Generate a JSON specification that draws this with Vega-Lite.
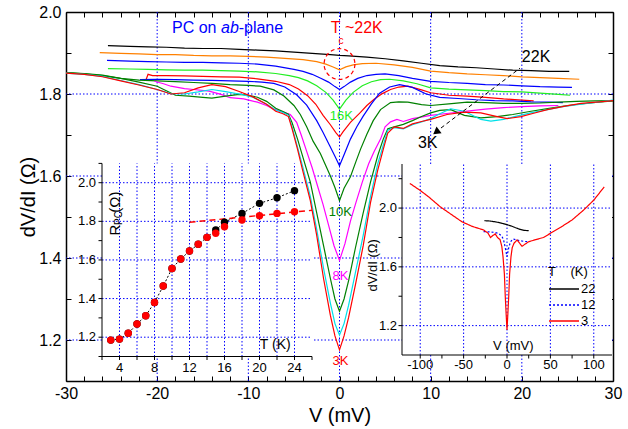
{
"$schema": "https://vega.github.io/schema/vega-lite/v6.json",
"width": 547, "height": 369, "autosize": "none",
"padding": {"left": 66, "top": 12, "right": 15, "bottom": 48},
"config": {"font": "Liberation Sans", "view": {"stroke": null},
  "axis": {"grid": false, "domainColor": "#000", "tickColor": "#000", "labelColor": "#000", "titleColor": "#000", "titleFontWeight": "normal", "labelFlush": false, "zindex": 1}},
"datasets": {
"curves": [
{"s":"22K","v":-25.4,"r":1.918},{"s":"22K","v":-23,"r":1.916},{"s":"22K","v":-21,"r":1.915},{"s":"22K","v":-19,"r":1.914},{"s":"22K","v":-17,"r":1.912},{"s":"22K","v":-15,"r":1.911},{"s":"22K","v":-13,"r":1.911},{"s":"22K","v":-11,"r":1.909},{"s":"22K","v":-9,"r":1.907},{"s":"22K","v":-7,"r":1.905},{"s":"22K","v":-5,"r":1.902},{"s":"22K","v":-3,"r":1.899},{"s":"22K","v":-1,"r":1.896},{"s":"22K","v":0,"r":1.894},{"s":"22K","v":1,"r":1.893},{"s":"22K","v":3,"r":1.89},{"s":"22K","v":5,"r":1.886},{"s":"22K","v":7,"r":1.881},{"s":"22K","v":9,"r":1.875},{"s":"22K","v":11,"r":1.869},{"s":"22K","v":13,"r":1.866},{"s":"22K","v":15,"r":1.864},{"s":"22K","v":17,"r":1.861},{"s":"22K","v":19,"r":1.858},{"s":"22K","v":21,"r":1.857},{"s":"22K","v":23,"r":1.855},{"s":"22K","v":25.2,"r":1.855},
{"s":"20K","v":-26.3,"r":1.901},{"s":"20K","v":-24,"r":1.899},{"s":"20K","v":-22,"r":1.898},{"s":"20K","v":-20,"r":1.896},{"s":"20K","v":-18,"r":1.896},{"s":"20K","v":-16,"r":1.894},{"s":"20K","v":-14,"r":1.893},{"s":"20K","v":-12,"r":1.893},{"s":"20K","v":-10,"r":1.892},{"s":"20K","v":-8,"r":1.89},{"s":"20K","v":-6,"r":1.887},{"s":"20K","v":-4,"r":1.884},{"s":"20K","v":-2.5,"r":1.879},{"s":"20K","v":-1.5,"r":1.873},{"s":"20K","v":-0.7,"r":1.866},{"s":"20K","v":0,"r":1.859},{"s":"20K","v":0.7,"r":1.866},{"s":"20K","v":1.5,"r":1.871},{"s":"20K","v":2.5,"r":1.874},{"s":"20K","v":4,"r":1.875},{"s":"20K","v":6,"r":1.871},{"s":"20K","v":8,"r":1.865},{"s":"20K","v":10,"r":1.856},{"s":"20K","v":12,"r":1.852},{"s":"20K","v":14,"r":1.849},{"s":"20K","v":16,"r":1.847},{"s":"20K","v":18,"r":1.845},{"s":"20K","v":20,"r":1.842},{"s":"20K","v":22,"r":1.84},{"s":"20K","v":24,"r":1.838},{"s":"20K","v":26.3,"r":1.836},
{"s":"18K","v":-25.5,"r":1.882},{"s":"18K","v":-23,"r":1.88},{"s":"18K","v":-21,"r":1.879},{"s":"18K","v":-19,"r":1.878},{"s":"18K","v":-17,"r":1.877},{"s":"18K","v":-15,"r":1.877},{"s":"18K","v":-13,"r":1.876},{"s":"18K","v":-11,"r":1.875},{"s":"18K","v":-9,"r":1.873},{"s":"18K","v":-7,"r":1.868},{"s":"18K","v":-5,"r":1.86},{"s":"18K","v":-4,"r":1.855},{"s":"18K","v":-3,"r":1.848},{"s":"18K","v":-2,"r":1.838},{"s":"18K","v":-1.2,"r":1.829},{"s":"18K","v":-0.5,"r":1.818},{"s":"18K","v":0,"r":1.811},{"s":"18K","v":0.5,"r":1.818},{"s":"18K","v":1.2,"r":1.829},{"s":"18K","v":2,"r":1.838},{"s":"18K","v":3,"r":1.845},{"s":"18K","v":4,"r":1.848},{"s":"18K","v":5,"r":1.849},{"s":"18K","v":6.5,"r":1.845},{"s":"18K","v":8,"r":1.838},{"s":"18K","v":10,"r":1.831},{"s":"18K","v":12,"r":1.828},{"s":"18K","v":14,"r":1.826},{"s":"18K","v":16,"r":1.823},{"s":"18K","v":18,"r":1.822},{"s":"18K","v":20,"r":1.82},{"s":"18K","v":22,"r":1.818},{"s":"18K","v":24,"r":1.817},{"s":"18K","v":25.5,"r":1.816},
{"s":"16K","v":-25.4,"r":1.862},{"s":"16K","v":-23,"r":1.861},{"s":"16K","v":-21,"r":1.86},{"s":"16K","v":-19,"r":1.859},{"s":"16K","v":-17,"r":1.858},{"s":"16K","v":-15,"r":1.858},{"s":"16K","v":-13,"r":1.857},{"s":"16K","v":-11,"r":1.856},{"s":"16K","v":-9,"r":1.854},{"s":"16K","v":-7,"r":1.85},{"s":"16K","v":-5.5,"r":1.845},{"s":"16K","v":-4.5,"r":1.84},{"s":"16K","v":-3.5,"r":1.832},{"s":"16K","v":-2.5,"r":1.82},{"s":"16K","v":-1.5,"r":1.804},{"s":"16K","v":-0.7,"r":1.785},{"s":"16K","v":0,"r":1.763},{"s":"16K","v":0.7,"r":1.785},{"s":"16K","v":1.5,"r":1.804},{"s":"16K","v":2.5,"r":1.82},{"s":"16K","v":3.5,"r":1.83},{"s":"16K","v":4.5,"r":1.835},{"s":"16K","v":5.5,"r":1.836},{"s":"16K","v":7,"r":1.832},{"s":"16K","v":8.5,"r":1.825},{"s":"16K","v":10,"r":1.815},{"s":"16K","v":12,"r":1.812},{"s":"16K","v":14,"r":1.81},{"s":"16K","v":16,"r":1.808},{"s":"16K","v":18,"r":1.806},{"s":"16K","v":20,"r":1.805},{"s":"16K","v":22,"r":1.802},{"s":"16K","v":24,"r":1.799},{"s":"16K","v":25.3,"r":1.797},
{"s":"14K","v":-21.2,"r":1.836},{"s":"14K","v":-21,"r":1.848},{"s":"14K","v":-20.5,"r":1.845},{"s":"14K","v":-19,"r":1.845},{"s":"14K","v":-17,"r":1.844},{"s":"14K","v":-15,"r":1.843},{"s":"14K","v":-13,"r":1.842},{"s":"14K","v":-11,"r":1.841},{"s":"14K","v":-9,"r":1.837},{"s":"14K","v":-7,"r":1.831},{"s":"14K","v":-5.5,"r":1.823},{"s":"14K","v":-4.5,"r":1.812},{"s":"14K","v":-3.5,"r":1.796},{"s":"14K","v":-2.6,"r":1.775},{"s":"14K","v":-1.8,"r":1.748},{"s":"14K","v":-1,"r":1.725},{"s":"14K","v":-0.4,"r":1.706},{"s":"14K","v":0,"r":1.695},{"s":"14K","v":0.4,"r":1.708},{"s":"14K","v":1.2,"r":1.731},{"s":"14K","v":2.3,"r":1.755},{"s":"14K","v":3,"r":1.772},{"s":"14K","v":3.8,"r":1.787},{"s":"14K","v":4.7,"r":1.801},{"s":"14K","v":5.6,"r":1.811},{"s":"14K","v":6.5,"r":1.817},{"s":"14K","v":7.5,"r":1.819},{"s":"14K","v":9,"r":1.81},{"s":"14K","v":10,"r":1.803},{"s":"14K","v":12,"r":1.797},{"s":"14K","v":14,"r":1.795},{"s":"14K","v":16,"r":1.792},{"s":"14K","v":18,"r":1.788},{"s":"14K","v":20,"r":1.785},{"s":"14K","v":21.3,"r":1.783},
{"s":"12K","v":-21.9,"r":1.835},{"s":"12K","v":-20,"r":1.836},{"s":"12K","v":-18,"r":1.835},{"s":"12K","v":-16,"r":1.834},{"s":"12K","v":-14,"r":1.833},{"s":"12K","v":-12,"r":1.832},{"s":"12K","v":-10,"r":1.831},{"s":"12K","v":-8.5,"r":1.829},{"s":"12K","v":-7.2,"r":1.826},{"s":"12K","v":-6,"r":1.817},{"s":"12K","v":-4.7,"r":1.798},{"s":"12K","v":-3.6,"r":1.773},{"s":"12K","v":-2.5,"r":1.735},{"s":"12K","v":-1.8,"r":1.706},{"s":"12K","v":-1.1,"r":1.675},{"s":"12K","v":-0.5,"r":1.648},{"s":"12K","v":0,"r":1.625},{"s":"12K","v":0.5,"r":1.652},{"s":"12K","v":1.2,"r":1.69},{"s":"12K","v":1.9,"r":1.72},{"s":"12K","v":2.6,"r":1.746},{"s":"12K","v":3.5,"r":1.776},{"s":"12K","v":4.4,"r":1.802},{"s":"12K","v":5.5,"r":1.817},{"s":"12K","v":6.6,"r":1.823},{"s":"12K","v":8,"r":1.816},{"s":"12K","v":9.5,"r":1.8},{"s":"12K","v":11,"r":1.792},{"s":"12K","v":13,"r":1.789},{"s":"12K","v":15,"r":1.786},{"s":"12K","v":17,"r":1.784},{"s":"12K","v":19,"r":1.783},{"s":"12K","v":21,"r":1.781},{"s":"12K","v":23,"r":1.78},{"s":"12K","v":24.5,"r":1.779},
{"s":"10K","v":-30,"r":1.852},{"s":"10K","v":-28,"r":1.849},{"s":"10K","v":-26,"r":1.845},{"s":"10K","v":-24,"r":1.838},{"s":"10K","v":-22,"r":1.834},{"s":"10K","v":-20,"r":1.832},{"s":"10K","v":-18,"r":1.83},{"s":"10K","v":-16,"r":1.828},{"s":"10K","v":-14,"r":1.826},{"s":"10K","v":-12,"r":1.823},{"s":"10K","v":-10,"r":1.821},{"s":"10K","v":-8.7,"r":1.819},{"s":"10K","v":-7.2,"r":1.81},{"s":"10K","v":-6.1,"r":1.795},{"s":"10K","v":-5,"r":1.772},{"s":"10K","v":-4.3,"r":1.75},{"s":"10K","v":-3.6,"r":1.72},{"s":"10K","v":-2.9,"r":1.685},{"s":"10K","v":-2.1,"r":1.655},{"s":"10K","v":-1.5,"r":1.625},{"s":"10K","v":-1,"r":1.6},{"s":"10K","v":-0.5,"r":1.572},{"s":"10K","v":0,"r":1.54},{"s":"10K","v":0.5,"r":1.57},{"s":"10K","v":1.2,"r":1.598},{"s":"10K","v":1.8,"r":1.635},{"s":"10K","v":2.3,"r":1.665},{"s":"10K","v":3,"r":1.702},{"s":"10K","v":3.7,"r":1.735},{"s":"10K","v":4.5,"r":1.762},{"s":"10K","v":5.6,"r":1.779},{"s":"10K","v":6.5,"r":1.781},{"s":"10K","v":7.5,"r":1.78},{"s":"10K","v":9,"r":1.774},{"s":"10K","v":10,"r":1.772},{"s":"10K","v":12,"r":1.776},{"s":"10K","v":14,"r":1.78},{"s":"10K","v":16,"r":1.779},{"s":"10K","v":18,"r":1.777},{"s":"10K","v":20,"r":1.777},{"s":"10K","v":22,"r":1.778},{"s":"10K","v":24,"r":1.78},{"s":"10K","v":26,"r":1.782},{"s":"10K","v":28,"r":1.783},{"s":"10K","v":30,"r":1.784},
{"s":"8K","v":-20.3,"r":1.831},{"s":"8K","v":-19.3,"r":1.825},{"s":"8K","v":-18.5,"r":1.819},{"s":"8K","v":-17,"r":1.813},{"s":"8K","v":-16,"r":1.811},{"s":"8K","v":-14.3,"r":1.807},{"s":"8K","v":-13,"r":1.799},{"s":"8K","v":-12,"r":1.791},{"s":"8K","v":-10.5,"r":1.788},{"s":"8K","v":-9,"r":1.78},{"s":"8K","v":-8,"r":1.772},{"s":"8K","v":-7.2,"r":1.763},{"s":"8K","v":-6.3,"r":1.757},{"s":"8K","v":-5.4,"r":1.75},{"s":"8K","v":-4.7,"r":1.731},{"s":"8K","v":-4.2,"r":1.7},{"s":"8K","v":-3.6,"r":1.66},{"s":"8K","v":-3,"r":1.62},{"s":"8K","v":-2.4,"r":1.575},{"s":"8K","v":-1.8,"r":1.53},{"s":"8K","v":-1.2,"r":1.48},{"s":"8K","v":-0.6,"r":1.43},{"s":"8K","v":0,"r":1.394},{"s":"8K","v":0.6,"r":1.435},{"s":"8K","v":1.2,"r":1.49},{"s":"8K","v":1.8,"r":1.535},{"s":"8K","v":2.5,"r":1.585},{"s":"8K","v":3.2,"r":1.63},{"s":"8K","v":3.8,"r":1.66},{"s":"8K","v":4.5,"r":1.69},{"s":"8K","v":5,"r":1.72},{"s":"8K","v":5.6,"r":1.732},{"s":"8K","v":6.3,"r":1.738},{"s":"8K","v":7,"r":1.733},{"s":"8K","v":8,"r":1.74},{"s":"8K","v":10,"r":1.748},{"s":"8K","v":12,"r":1.753},{"s":"8K","v":14,"r":1.758},{"s":"8K","v":16,"r":1.763},{"s":"8K","v":18,"r":1.767},{"s":"8K","v":20,"r":1.769},{"s":"8K","v":22,"r":1.771},{"s":"8K","v":24,"r":1.772},
{"s":"6K","v":-30,"r":1.852},{"s":"6K","v":-28,"r":1.85},{"s":"6K","v":-26,"r":1.846},{"s":"6K","v":-24,"r":1.838},{"s":"6K","v":-22,"r":1.829},{"s":"6K","v":-20,"r":1.819},{"s":"6K","v":-19,"r":1.808},{"s":"6K","v":-18,"r":1.797},{"s":"6K","v":-16.5,"r":1.795},{"s":"6K","v":-15,"r":1.792},{"s":"6K","v":-14,"r":1.79},{"s":"6K","v":-12.5,"r":1.795},{"s":"6K","v":-11,"r":1.799},{"s":"6K","v":-10,"r":1.797},{"s":"6K","v":-9,"r":1.792},{"s":"6K","v":-8,"r":1.782},{"s":"6K","v":-7,"r":1.765},{"s":"6K","v":-6.2,"r":1.757},{"s":"6K","v":-5.6,"r":1.751},{"s":"6K","v":-5.2,"r":1.73},{"s":"6K","v":-4.6,"r":1.69},{"s":"6K","v":-4,"r":1.645},{"s":"6K","v":-3.2,"r":1.585},{"s":"6K","v":-2.5,"r":1.51},{"s":"6K","v":-1.75,"r":1.43},{"s":"6K","v":-1,"r":1.35},{"s":"6K","v":-0.5,"r":1.3},{"s":"6K","v":0,"r":1.27},{"s":"6K","v":0.5,"r":1.3},{"s":"6K","v":1,"r":1.345},{"s":"6K","v":1.75,"r":1.425},{"s":"6K","v":2.6,"r":1.51},{"s":"6K","v":3.4,"r":1.585},{"s":"6K","v":4.2,"r":1.65},{"s":"6K","v":4.8,"r":1.69},{"s":"6K","v":5.3,"r":1.715},{"s":"6K","v":6,"r":1.72},{"s":"6K","v":7,"r":1.726},{"s":"6K","v":8,"r":1.735},{"s":"6K","v":9,"r":1.745},{"s":"6K","v":10,"r":1.754},{"s":"6K","v":11,"r":1.76},{"s":"6K","v":12.2,"r":1.762},{"s":"6K","v":13.7,"r":1.748},{"s":"6K","v":15.5,"r":1.742},{"s":"6K","v":17.3,"r":1.745},{"s":"6K","v":19,"r":1.75},{"s":"6K","v":21,"r":1.758},{"s":"6K","v":23,"r":1.765},{"s":"6K","v":25,"r":1.772},{"s":"6K","v":27.5,"r":1.778},{"s":"6K","v":30,"r":1.783},
{"s":"4K","v":-30,"r":1.851},{"s":"4K","v":-28,"r":1.848},{"s":"4K","v":-26,"r":1.843},{"s":"4K","v":-24,"r":1.833},{"s":"4K","v":-22,"r":1.823},{"s":"4K","v":-20,"r":1.811},{"s":"4K","v":-18.5,"r":1.801},{"s":"4K","v":-17,"r":1.8},{"s":"4K","v":-15.5,"r":1.805},{"s":"4K","v":-14,"r":1.811},{"s":"4K","v":-12.5,"r":1.806},{"s":"4K","v":-11,"r":1.8},{"s":"4K","v":-9.5,"r":1.792},{"s":"4K","v":-8,"r":1.775},{"s":"4K","v":-7,"r":1.761},{"s":"4K","v":-6.2,"r":1.755},{"s":"4K","v":-5.6,"r":1.748},{"s":"4K","v":-5.2,"r":1.72},{"s":"4K","v":-4.6,"r":1.67},{"s":"4K","v":-4,"r":1.62},{"s":"4K","v":-3.2,"r":1.55},{"s":"4K","v":-2.5,"r":1.47},{"s":"4K","v":-1.75,"r":1.375},{"s":"4K","v":-1,"r":1.29},{"s":"4K","v":-0.5,"r":1.24},{"s":"4K","v":0,"r":1.212},{"s":"4K","v":0.5,"r":1.24},{"s":"4K","v":1,"r":1.285},{"s":"4K","v":1.75,"r":1.365},{"s":"4K","v":2.6,"r":1.455},{"s":"4K","v":3.4,"r":1.55},{"s":"4K","v":4.2,"r":1.63},{"s":"4K","v":4.8,"r":1.675},{"s":"4K","v":5.3,"r":1.712},{"s":"4K","v":6,"r":1.718},{"s":"4K","v":7,"r":1.715},{"s":"4K","v":8,"r":1.725},{"s":"4K","v":9,"r":1.732},{"s":"4K","v":10,"r":1.74},{"s":"4K","v":11,"r":1.752},{"s":"4K","v":12.2,"r":1.764},{"s":"4K","v":13.7,"r":1.758},{"s":"4K","v":15.5,"r":1.738},{"s":"4K","v":16.6,"r":1.734},{"s":"4K","v":18,"r":1.738},{"s":"4K","v":19.2,"r":1.745},{"s":"4K","v":21,"r":1.754},{"s":"4K","v":22.8,"r":1.762},{"s":"4K","v":24.5,"r":1.769},{"s":"4K","v":26.5,"r":1.775},{"s":"4K","v":28.5,"r":1.781},{"s":"4K","v":30,"r":1.785},
{"s":"3K","v":-30,"r":1.851},{"s":"3K","v":-28,"r":1.848},{"s":"3K","v":-26,"r":1.842},{"s":"3K","v":-24,"r":1.832},{"s":"3K","v":-22,"r":1.822},{"s":"3K","v":-20,"r":1.811},{"s":"3K","v":-18.5,"r":1.8},{"s":"3K","v":-17,"r":1.803},{"s":"3K","v":-15.5,"r":1.815},{"s":"3K","v":-14,"r":1.823},{"s":"3K","v":-12.5,"r":1.818},{"s":"3K","v":-11,"r":1.806},{"s":"3K","v":-9.5,"r":1.793},{"s":"3K","v":-8,"r":1.775},{"s":"3K","v":-7,"r":1.758},{"s":"3K","v":-6.2,"r":1.752},{"s":"3K","v":-5.6,"r":1.745},{"s":"3K","v":-5.2,"r":1.715},{"s":"3K","v":-4.6,"r":1.665},{"s":"3K","v":-4,"r":1.61},{"s":"3K","v":-3.2,"r":1.54},{"s":"3K","v":-2.5,"r":1.455},{"s":"3K","v":-1.75,"r":1.35},{"s":"3K","v":-1,"r":1.26},{"s":"3K","v":-0.5,"r":1.21},{"s":"3K","v":0,"r":1.176},{"s":"3K","v":0.5,"r":1.21},{"s":"3K","v":1,"r":1.255},{"s":"3K","v":1.75,"r":1.335},{"s":"3K","v":2.6,"r":1.43},{"s":"3K","v":3.4,"r":1.535},{"s":"3K","v":4.2,"r":1.615},{"s":"3K","v":4.8,"r":1.665},{"s":"3K","v":5.3,"r":1.705},{"s":"3K","v":6,"r":1.72},{"s":"3K","v":7,"r":1.716},{"s":"3K","v":8,"r":1.727},{"s":"3K","v":9,"r":1.733},{"s":"3K","v":10,"r":1.738},{"s":"3K","v":11.8,"r":1.75},{"s":"3K","v":13.7,"r":1.756},{"s":"3K","v":15.5,"r":1.754},{"s":"3K","v":17.3,"r":1.745},{"s":"3K","v":18.4,"r":1.74},{"s":"3K","v":19.9,"r":1.745},{"s":"3K","v":21.3,"r":1.753},{"s":"3K","v":22.8,"r":1.762},{"s":"3K","v":24.6,"r":1.77},{"s":"3K","v":26.5,"r":1.777},{"s":"3K","v":28.5,"r":1.781},{"s":"3K","v":30,"r":1.784}
],
"rpcRed": [{"T":3,"R":1.185},{"T":4,"R":1.19},{"T":5,"R":1.22},{"T":6,"R":1.268},{"T":7,"R":1.311},{"T":8,"R":1.38},{"T":9,"R":1.465},{"T":10,"R":1.556},{"T":11,"R":1.605},{"T":12,"R":1.646},{"T":13,"R":1.681},{"T":14,"R":1.717},{"T":15,"R":1.738},{"T":16,"R":1.772},{"T":18,"R":1.807},{"T":20,"R":1.829},{"T":22,"R":1.841},{"T":24,"R":1.85}],
"rpcBlack": [{"T":3,"R":1.185},{"T":4,"R":1.19},{"T":5,"R":1.22},{"T":6,"R":1.268},{"T":7,"R":1.311},{"T":8,"R":1.38},{"T":9,"R":1.465},{"T":10,"R":1.556},{"T":11,"R":1.605},{"T":12,"R":1.646},{"T":13,"R":1.681},{"T":14,"R":1.717},{"T":15,"R":1.755},{"T":16,"R":1.795},{"T":18,"R":1.841},{"T":20,"R":1.893},{"T":22,"R":1.922},{"T":24,"R":1.959}],
"rpcFit": [{"T":12,"R":1.795},{"T":26,"R":1.857}],
"insetCurves": [
{"k":"22","v":-26,"r":1.914},{"k":"22","v":-20,"r":1.912},{"k":"22","v":-12,"r":1.905},{"k":"22","v":-5,"r":1.895},{"k":"22","v":0,"r":1.887},{"k":"22","v":5,"r":1.878},{"k":"22","v":10,"r":1.866},{"k":"22","v":15,"r":1.855},{"k":"22","v":20,"r":1.848},{"k":"22","v":25,"r":1.846},
{"k":"12","v":-27,"r":1.84},{"k":"12","v":-20,"r":1.838},{"k":"12","v":-15,"r":1.835},{"k":"12","v":-10,"r":1.828},{"k":"12","v":-6,"r":1.81},{"k":"12","v":-4,"r":1.785},{"k":"12","v":-2,"r":1.73},{"k":"12","v":0,"r":1.67},{"k":"12","v":2,"r":1.73},{"k":"12","v":4,"r":1.77},{"k":"12","v":7,"r":1.79},{"k":"12","v":10,"r":1.785},{"k":"12","v":15,"r":1.778},{"k":"12","v":20,"r":1.773},{"k":"12","v":25,"r":1.77},
{"k":"3","v":-112,"r":2.168},{"k":"3","v":-100,"r":2.12},{"k":"3","v":-90,"r":2.075},{"k":"3","v":-77,"r":2.009},{"k":"3","v":-65,"r":1.96},{"k":"3","v":-52,"r":1.907},{"k":"3","v":-40,"r":1.875},{"k":"3","v":-27,"r":1.851},{"k":"3","v":-22,"r":1.83},{"k":"3","v":-19,"r":1.8},{"k":"3","v":-16,"r":1.815},{"k":"3","v":-13.5,"r":1.824},{"k":"3","v":-11,"r":1.8},{"k":"3","v":-8,"r":1.785},{"k":"3","v":-6,"r":1.74},{"k":"3","v":-4.6,"r":1.67},{"k":"3","v":-3,"r":1.55},{"k":"3","v":-2,"r":1.4},{"k":"3","v":-1,"r":1.28},{"k":"3","v":0,"r":1.17},{"k":"3","v":1,"r":1.28},{"k":"3","v":2,"r":1.4},{"k":"3","v":3,"r":1.55},{"k":"3","v":4.6,"r":1.67},{"k":"3","v":6,"r":1.73},{"k":"3","v":8,"r":1.76},{"k":"3","v":11.5,"r":1.783},{"k":"3","v":14,"r":1.765},{"k":"3","v":17.3,"r":1.74},{"k":"3","v":21,"r":1.755},{"k":"3","v":25,"r":1.771},{"k":"3","v":33,"r":1.785},{"k":"3","v":42,"r":1.8},{"k":"3","v":50,"r":1.828},{"k":"3","v":62,"r":1.87},{"k":"3","v":75,"r":1.919},{"k":"3","v":88,"r":1.985},{"k":"3","v":100,"r":2.054},{"k":"3","v":112,"r":2.144}
]
},
"layer": [
{"layer": [
  {"data": {"values": [{"g":-20},{"g":-10},{"g":0},{"g":10},{"g":20}]},
   "mark": {"type": "rule", "stroke": "#0000ff", "strokeDash": [1.5, 2], "strokeWidth": 1},
   "encoding": {"x": {"field": "g", "type": "quantitative", "scale": {"domain": [-30, 30], "nice": false, "zero": false},
     "axis": {"orient": "top", "values": [-30,-28,-26,-24,-22,-20,-18,-16,-14,-12,-10,-8,-6,-4,-2,0,2,4,6,8,10,12,14,16,18,20,22,24,26,28,30], "labels": false, "tickSize": -5, "domainWidth": 1.5, "title": null}}}},
  {"data": {"values": [{"g":1.2},{"g":1.4},{"g":1.6},{"g":1.8}]},
   "mark": {"type": "rule", "stroke": "#0000ff", "strokeDash": [1.5, 2], "strokeWidth": 1},
   "encoding": {"y": {"field": "g", "type": "quantitative", "scale": {"domain": [1.1, 2.0], "nice": false, "zero": false},
     "axis": {"orient": "right", "values": [1.1,1.2,1.3,1.4,1.5,1.6,1.7,1.8,1.9,2.0], "labels": false, "tickSize": -5, "domainWidth": 1.5, "title": null}}}},
  {"data": {"values": [{"g":-20},{"g":-10},{"g":0},{"g":10},{"g":20}]},
   "mark": {"type": "rule", "stroke": "#0000ff", "strokeWidth": 1, "opacity": 0},
   "encoding": {"x": {"field": "g", "type": "quantitative", "scale": {"domain": [-30, 30], "nice": false, "zero": false},
     "axis": {"orient": "bottom", "values": [-30,-28,-26,-24,-22,-20,-18,-16,-14,-12,-10,-8,-6,-4,-2,0,2,4,6,8,10,12,14,16,18,20,22,24,26,28,30], "labelExpr": "datum.value % 10 == 0 ? '' + datum.value : ''", "tickSize": -5, "labelPadding": 9, "labelFontSize": 16, "domainWidth": 1.5, "title": "V (mV)", "titleFontSize": 20, "titlePadding": 4}}}},
  {"data": {"values": [{"g":1.2},{"g":1.4},{"g":1.6},{"g":1.8}]},
   "mark": {"type": "rule", "stroke": "#0000ff", "strokeWidth": 1, "opacity": 0},
   "encoding": {"y": {"field": "g", "type": "quantitative", "scale": {"domain": [1.1, 2.0], "nice": false, "zero": false},
     "axis": {"orient": "left", "values": [1.1,1.2,1.3,1.4,1.5,1.6,1.7,1.8,1.9,2.0], "labelExpr": "indexof(['1.2','1.4','1.6','1.8','2.0'], format(datum.value, '.1f')) >= 0 ? format(datum.value, '.1f') : ''", "tickSize": -5, "labelPadding": 10, "labelFontSize": 16, "domainWidth": 1.5, "title": "dV/dI (Ω)", "titleFontSize": 20, "titlePadding": 0}}}}
],
 "resolve": {"axis": {"x": "independent", "y": "independent"}}},
{"layer": [
  {"data": {"values": [{"a":2,"b":26,"c":1.1,"d":2.1}]},
   "mark": {"type": "rect", "fill": "#ffffff", "opacity": 1},
   "encoding": {
     "x": {"field": "a", "type": "quantitative", "scale": {"domain": [2, 26], "range": [36, 246], "nice": false, "zero": false}, "axis": null},
     "x2": {"field": "b"},
     "y": {"field": "c", "type": "quantitative", "scale": {"domain": [1.1, 2.1], "range": [344.5, 151.4], "nice": false, "zero": false}, "axis": null},
     "y2": {"field": "d"}}},
  {"data": {"values": [{"g":4},{"g":6},{"g":8},{"g":10},{"g":12},{"g":14},{"g":16},{"g":18},{"g":20},{"g":22},{"g":24}]},
   "mark": {"type": "rule", "stroke": "#0000ff", "strokeDash": [1.5, 2], "strokeWidth": 1},
   "encoding": {"x": {"field": "g", "type": "quantitative", "scale": {"domain": [2, 26], "range": [36, 246], "nice": false, "zero": false}, "axis": null},
     "y": {"datum": 1.1, "type": "quantitative", "scale": {"domain": [1.1, 2.1], "range": [344.5, 151.4], "nice": false, "zero": false}, "axis": null}, "y2": {"datum": 2.1}}},
  {"data": {"values": [{"g":1.2},{"g":1.4},{"g":1.6},{"g":1.8},{"g":2.0}]},
   "mark": {"type": "rule", "stroke": "#0000ff", "strokeDash": [1.5, 2], "strokeWidth": 1},
   "encoding": {"y": {"field": "g", "type": "quantitative", "scale": {"domain": [1.1, 2.1], "range": [344.5, 151.4], "nice": false, "zero": false}, "axis": null},
     "x": {"datum": 2, "type": "quantitative", "scale": {"domain": [2, 26], "range": [36, 246], "nice": false, "zero": false}, "axis": null}, "x2": {"datum": 26}}},
  {"data": {"values": [{"g":1.1}]},
   "mark": {"type": "rule", "stroke": "#000000", "strokeWidth": 1},
   "encoding": {"y": {"field": "g", "type": "quantitative", "scale": {"domain": [1.1, 2.1], "range": [344.5, 151.4], "nice": false, "zero": false}, "axis": null},
     "x": {"datum": 2, "type": "quantitative", "scale": {"domain": [2, 26], "range": [36, 246], "nice": false, "zero": false}, "axis": null}, "x2": {"datum": 26}}},
  {"data": {"values": [{"g":2}]},
   "mark": {"type": "rule", "stroke": "#000000", "strokeWidth": 1},
   "encoding": {"x": {"field": "g", "type": "quantitative", "scale": {"domain": [2, 26], "range": [36, 246], "nice": false, "zero": false}, "axis": null},
     "y": {"datum": 1.1, "type": "quantitative", "scale": {"domain": [1.1, 2.1], "range": [344.5, 151.4], "nice": false, "zero": false}, "axis": null}, "y2": {"datum": 2.1}}},
  {"data": {"values": [{"g":2},{"g":4},{"g":6},{"g":8},{"g":10},{"g":12},{"g":14},{"g":16},{"g":18},{"g":20},{"g":22},{"g":24},{"g":26}]},
   "mark": {"type": "point", "shape": "M0,0L0,1", "size": 49, "filled": false, "stroke": "#000000", "strokeWidth": 1, "opacity": 1},
   "encoding": {"x": {"field": "g", "type": "quantitative", "scale": {"domain": [2, 26], "range": [36, 246], "nice": false, "zero": false}, "axis": null},
     "y": {"datum": 1.1, "type": "quantitative", "scale": {"domain": [1.1, 2.1], "range": [344.5, 151.4], "nice": false, "zero": false}, "axis": null}}},
  {"data": {"values": [{"g":1.1},{"g":1.2},{"g":1.3},{"g":1.4},{"g":1.5},{"g":1.6},{"g":1.7},{"g":1.8},{"g":1.9},{"g":2.0},{"g":2.1}]},
   "mark": {"type": "point", "shape": "M0,0L-1,0", "size": 49, "filled": false, "stroke": "#000000", "strokeWidth": 1, "opacity": 1},
   "encoding": {"y": {"field": "g", "type": "quantitative", "scale": {"domain": [1.1, 2.1], "range": [344.5, 151.4], "nice": false, "zero": false}, "axis": null},
     "x": {"datum": 2, "type": "quantitative", "scale": {"domain": [2, 26], "range": [36, 246], "nice": false, "zero": false}, "axis": null}}},
  {"data": {"values": [{"g":4,"t":"4"},{"g":8,"t":"8"},{"g":12,"t":"12"},{"g":16,"t":"16"},{"g":20,"t":"20"},{"g":24,"t":"24"}]},
   "mark": {"type": "text", "fontSize": 13, "align": "center", "baseline": "top", "dy": 5, "color": "#000"},
   "encoding": {"x": {"field": "g", "type": "quantitative", "scale": {"domain": [2, 26], "range": [36, 246], "nice": false, "zero": false}, "axis": null},
     "y": {"datum": 1.1, "type": "quantitative", "scale": {"domain": [1.1, 2.1], "range": [344.5, 151.4], "nice": false, "zero": false}, "axis": null}, "text": {"field": "t"}}},
  {"data": {"values": [{"g":1.2,"t":"1.2"},{"g":1.4,"t":"1.4"},{"g":1.6,"t":"1.6"},{"g":1.8,"t":"1.8"},{"g":2.0,"t":"2.0"}]},
   "mark": {"type": "text", "fontSize": 13, "align": "right", "baseline": "middle", "dx": -6, "color": "#000"},
   "encoding": {"y": {"field": "g", "type": "quantitative", "scale": {"domain": [1.1, 2.1], "range": [344.5, 151.4], "nice": false, "zero": false}, "axis": null},
     "x": {"datum": 2, "type": "quantitative", "scale": {"domain": [2, 26], "range": [36, 246], "nice": false, "zero": false}, "axis": null}, "text": {"field": "t"}}},
  {"data": {"name": "rpcBlack"},
   "mark": {"type": "line", "stroke": "#000000", "strokeDash": [2, 2], "strokeWidth": 1},
   "encoding": {"x": {"field": "T", "type": "quantitative", "scale": {"domain": [2, 26], "range": [36, 246], "nice": false, "zero": false}, "axis": null},
     "y": {"field": "R", "type": "quantitative", "scale": {"domain": [1.1, 2.1], "range": [344.5, 151.4], "nice": false, "zero": false}, "axis": null}}},
  {"data": {"name": "rpcFit"},
   "mark": {"type": "line", "stroke": "#ff0000", "strokeDash": [6, 4], "strokeWidth": 1.5},
   "encoding": {"x": {"field": "T", "type": "quantitative", "scale": {"domain": [2, 26], "range": [36, 246], "nice": false, "zero": false}, "axis": null},
     "y": {"field": "R", "type": "quantitative", "scale": {"domain": [1.1, 2.1], "range": [344.5, 151.4], "nice": false, "zero": false}, "axis": null}}},
  {"data": {"name": "rpcBlack"},
   "mark": {"type": "point", "shape": "circle", "filled": true, "fill": "#000000", "stroke": null, "size": 55, "opacity": 1},
   "encoding": {"x": {"field": "T", "type": "quantitative", "scale": {"domain": [2, 26], "range": [36, 246], "nice": false, "zero": false}, "axis": null},
     "y": {"field": "R", "type": "quantitative", "scale": {"domain": [1.1, 2.1], "range": [344.5, 151.4], "nice": false, "zero": false}, "axis": null}}},
  {"data": {"name": "rpcRed"},
   "mark": {"type": "point", "shape": "circle", "filled": true, "fill": "#ff0000", "stroke": null, "size": 55, "opacity": 1},
   "encoding": {"x": {"field": "T", "type": "quantitative", "scale": {"domain": [2, 26], "range": [36, 246], "nice": false, "zero": false}, "axis": null},
     "y": {"field": "R", "type": "quantitative", "scale": {"domain": [1.1, 2.1], "range": [344.5, 151.4], "nice": false, "zero": false}, "axis": null}}},
  {"data": {"values": [{"t":"R","T":3.43,"R":1.755}, {"t":"(Ω)","T":3.5,"R":1.9}]},
   "mark": {"type": "text", "angle": 270, "fontSize": 15, "align": "center", "baseline": "middle", "color": "#000"},
   "encoding": {"x": {"field": "T", "type": "quantitative", "scale": {"domain": [2, 26], "range": [36, 246], "nice": false, "zero": false}, "axis": null},
     "y": {"field": "R", "type": "quantitative", "scale": {"domain": [1.1, 2.1], "range": [344.5, 151.4], "nice": false, "zero": false}, "axis": null}, "text": {"field": "t"}}},
  {"data": {"values": [{"t":"PC","T":3.9,"R":1.817}]},
   "mark": {"type": "text", "angle": 270, "fontSize": 10, "align": "center", "baseline": "middle", "color": "#000"},
   "encoding": {"x": {"field": "T", "type": "quantitative", "scale": {"domain": [2, 26], "range": [36, 246], "nice": false, "zero": false}, "axis": null},
     "y": {"field": "R", "type": "quantitative", "scale": {"domain": [1.1, 2.1], "range": [344.5, 151.4], "nice": false, "zero": false}, "axis": null}, "text": {"field": "t"}}},
  {"data": {"values": [{"t":"T (K)","T":21.8,"R":1.159}]},
   "mark": {"type": "text", "fontSize": 14, "align": "center", "baseline": "middle", "color": "#000"},
   "encoding": {"x": {"field": "T", "type": "quantitative", "scale": {"domain": [2, 26], "range": [36, 246], "nice": false, "zero": false}, "axis": null},
     "y": {"field": "R", "type": "quantitative", "scale": {"domain": [1.1, 2.1], "range": [344.5, 151.4], "nice": false, "zero": false}, "axis": null}, "text": {"field": "t"}}}
]},
{"layer": [
  {"data": {"values": [{"a":-121,"b":121,"c":1.0,"d":2.3}]},
   "mark": {"type": "rect", "fill": "#ffffff", "opacity": 1},
   "encoding": {
     "x": {"field": "a", "type": "quantitative", "scale": {"domain": [-121, 121], "range": [336, 546], "nice": false, "zero": false}, "axis": null},
     "x2": {"field": "b"},
     "y": {"field": "c", "type": "quantitative", "scale": {"domain": [1.0, 2.3], "range": [343, 152], "nice": false, "zero": false}, "axis": null},
     "y2": {"field": "d"}}},
  {"data": {"values": [{"g":-100},{"g":-50},{"g":0},{"g":50},{"g":100}]},
   "mark": {"type": "rule", "stroke": "#0000ff", "strokeDash": [1.5, 2], "strokeWidth": 1},
   "encoding": {"x": {"field": "g", "type": "quantitative", "scale": {"domain": [-121, 121], "range": [336, 546], "nice": false, "zero": false}, "axis": null},
     "y": {"datum": 1.0, "type": "quantitative", "scale": {"domain": [1.0, 2.3], "range": [343, 152], "nice": false, "zero": false}, "axis": null}, "y2": {"datum": 2.3}}},
  {"data": {"values": [{"g":1.2},{"g":1.6},{"g":2.0}]},
   "mark": {"type": "rule", "stroke": "#0000ff", "strokeDash": [1.5, 2], "strokeWidth": 1},
   "encoding": {"y": {"field": "g", "type": "quantitative", "scale": {"domain": [1.0, 2.3], "range": [343, 152], "nice": false, "zero": false}, "axis": null},
     "x": {"datum": -121, "type": "quantitative", "scale": {"domain": [-121, 121], "range": [336, 546], "nice": false, "zero": false}, "axis": null}, "x2": {"datum": 121}}},
  {"data": {"values": [{"g":1.0}]},
   "mark": {"type": "rule", "stroke": "#000000", "strokeWidth": 1},
   "encoding": {"y": {"field": "g", "type": "quantitative", "scale": {"domain": [1.0, 2.3], "range": [343, 152], "nice": false, "zero": false}, "axis": null},
     "x": {"datum": -121, "type": "quantitative", "scale": {"domain": [-121, 121], "range": [336, 546], "nice": false, "zero": false}, "axis": null}, "x2": {"datum": 121}}},
  {"data": {"values": [{"g":-121}]},
   "mark": {"type": "rule", "stroke": "#000000", "strokeWidth": 1},
   "encoding": {"x": {"field": "g", "type": "quantitative", "scale": {"domain": [-121, 121], "range": [336, 546], "nice": false, "zero": false}, "axis": null},
     "y": {"datum": 1.0, "type": "quantitative", "scale": {"domain": [1.0, 2.3], "range": [343, 152], "nice": false, "zero": false}, "axis": null}, "y2": {"datum": 2.3}}},
  {"data": {"values": [{"g":-100},{"g":-75},{"g":-50},{"g":-25},{"g":0},{"g":25},{"g":50},{"g":75},{"g":100}]},
   "mark": {"type": "point", "shape": "M0,0L0,1", "size": 49, "filled": false, "stroke": "#000000", "strokeWidth": 1, "opacity": 1},
   "encoding": {"x": {"field": "g", "type": "quantitative", "scale": {"domain": [-121, 121], "range": [336, 546], "nice": false, "zero": false}, "axis": null},
     "y": {"datum": 1.0, "type": "quantitative", "scale": {"domain": [1.0, 2.3], "range": [343, 152], "nice": false, "zero": false}, "axis": null}}},
  {"data": {"values": [{"g":1.2},{"g":1.4},{"g":1.6},{"g":1.8},{"g":2.0},{"g":2.2}]},
   "mark": {"type": "point", "shape": "M0,0L-1,0", "size": 49, "filled": false, "stroke": "#000000", "strokeWidth": 1, "opacity": 1},
   "encoding": {"y": {"field": "g", "type": "quantitative", "scale": {"domain": [1.0, 2.3], "range": [343, 152], "nice": false, "zero": false}, "axis": null},
     "x": {"datum": -121, "type": "quantitative", "scale": {"domain": [-121, 121], "range": [336, 546], "nice": false, "zero": false}, "axis": null}}},
  {"data": {"values": [{"g":-100,"t":"-100"},{"g":-50,"t":"-50"},{"g":0,"t":"0"},{"g":50,"t":"50"},{"g":100,"t":"100"}]},
   "mark": {"type": "text", "fontSize": 13, "align": "center", "baseline": "top", "dy": 4, "color": "#000"},
   "encoding": {"x": {"field": "g", "type": "quantitative", "scale": {"domain": [-121, 121], "range": [336, 546], "nice": false, "zero": false}, "axis": null},
     "y": {"datum": 1.0, "type": "quantitative", "scale": {"domain": [1.0, 2.3], "range": [343, 152], "nice": false, "zero": false}, "axis": null}, "text": {"field": "t"}}},
  {"data": {"values": [{"g":1.2,"t":"1.2"},{"g":1.6,"t":"1.6"},{"g":2.0,"t":"2.0"}]},
   "mark": {"type": "text", "fontSize": 13, "align": "right", "baseline": "middle", "dx": -5, "color": "#000"},
   "encoding": {"y": {"field": "g", "type": "quantitative", "scale": {"domain": [1.0, 2.3], "range": [343, 152], "nice": false, "zero": false}, "axis": null},
     "x": {"datum": -121, "type": "quantitative", "scale": {"domain": [-121, 121], "range": [336, 546], "nice": false, "zero": false}, "axis": null}, "text": {"field": "t"}}},
  {"data": {"values": [{"t":"dV/dI (Ω)","v":-154,"r":1.61}]},
   "mark": {"type": "text", "fontSize": 13, "angle": 270, "align": "center", "baseline": "middle", "color": "#000"},
   "encoding": {"x": {"field": "v", "type": "quantitative", "scale": {"domain": [-121, 121], "range": [336, 546], "nice": false, "zero": false}, "axis": null},
     "y": {"field": "r", "type": "quantitative", "scale": {"domain": [1.0, 2.3], "range": [343, 152], "nice": false, "zero": false}, "axis": null}, "text": {"field": "t"}}},
  {"data": {"name": "insetCurves"},
   "mark": {"type": "line", "strokeWidth": 1.2},
   "encoding": {"x": {"field": "v", "type": "quantitative", "scale": {"domain": [-121, 121], "range": [336, 546], "nice": false, "zero": false}, "axis": null},
     "y": {"field": "r", "type": "quantitative", "scale": {"domain": [1.0, 2.3], "range": [343, 152], "nice": false, "zero": false}, "axis": null},
     "color": {"field": "k", "type": "nominal", "scale": {"domain": ["22","12","3"], "range": ["#000000","#0000ff","#ff0000"]},
       "legend": {"orient": "none", "legendX": 482, "legendY": 254, "title": "T\u00a0\u00a0\u00a0\u00a0(K)", "titleFontSize": 13, "titleFontWeight": "normal", "titleColor": "#000", "labelFontSize": 13, "labelColor": "#000", "symbolType": "stroke", "symbolSize": 900, "symbolStrokeWidth": 1.5, "clipHeight": 16, "rowPadding": 0, "labelOffset": 1, "titlePadding": 2}},
     "strokeDash": {"field": "k", "type": "nominal", "scale": {"domain": ["22","12","3"], "range": [[1,0],[2,2],[1,0]]},
       "legend": {"orient": "none", "legendX": 482, "legendY": 254, "title": "T\u00a0\u00a0\u00a0\u00a0(K)", "titleFontSize": 13, "titleFontWeight": "normal", "titleColor": "#000", "labelFontSize": 13, "labelColor": "#000", "symbolType": "stroke", "symbolSize": 900, "symbolStrokeWidth": 1.5, "clipHeight": 16, "rowPadding": 0, "labelOffset": 1, "titlePadding": 2}}}},
  {"data": {"values": [{"t":"V (mV)","v":7.3,"r":1.064}]},
   "mark": {"type": "text", "fontSize": 13, "align": "center", "baseline": "middle", "color": "#000"},
   "encoding": {"x": {"field": "v", "type": "quantitative", "scale": {"domain": [-121, 121], "range": [336, 546], "nice": false, "zero": false}, "axis": null},
     "y": {"field": "r", "type": "quantitative", "scale": {"domain": [1.0, 2.3], "range": [343, 152], "nice": false, "zero": false}, "axis": null}, "text": {"field": "t"}}}
]},
{"layer": [
  {"data": {"name": "curves"},
   "mark": {"type": "line", "strokeWidth": 1.2},
   "encoding": {
     "x": {"field": "v", "type": "quantitative", "scale": {"domain": [-30, 30], "nice": false, "zero": false}, "axis": null},
     "y": {"field": "r", "type": "quantitative", "scale": {"domain": [1.1, 2.0], "nice": false, "zero": false}, "axis": null},
     "color": {"field": "s", "type": "nominal", "scale": {"domain": ["22K","20K","18K","16K","14K","12K","10K","8K","6K","4K","3K"], "range": ["#000000","#ff8000","#0000ff","#22ee22","#ff0000","#0000ff","#008000","#ff00ff","#008000","#00e0e8","#ff0000"]}, "legend": null}}},
  {"data": {"values": [{"v":19.8,"r":1.863},{"v":11.13,"r":1.717}]},
   "mark": {"type": "line", "stroke": "#000000", "strokeDash": [4, 3], "strokeWidth": 1},
   "encoding": {"x": {"field": "v", "type": "quantitative", "scale": {"domain": [-30, 30], "nice": false, "zero": false}, "axis": null},
     "y": {"field": "r", "type": "quantitative", "scale": {"domain": [1.1, 2.0], "nice": false, "zero": false}, "axis": null}}},
  {"data": {"values": [{"v":10.6,"r":1.707}]},
   "mark": {"type": "point", "shape": "triangle-up", "angle": 233, "size": 70, "filled": true, "fill": "#000000", "stroke": null, "opacity": 1},
   "encoding": {"x": {"field": "v", "type": "quantitative", "scale": {"domain": [-30, 30], "nice": false, "zero": false}, "axis": null},
     "y": {"field": "r", "type": "quantitative", "scale": {"domain": [1.1, 2.0], "nice": false, "zero": false}, "axis": null}}},
  {"data": {"values": [{"v":0,"r":1.873}]},
   "mark": {"type": "point", "shape": "circle", "size": 950, "filled": false, "stroke": "#ff0000", "strokeDash": [4, 3], "strokeWidth": 1.2, "opacity": 1},
   "encoding": {"x": {"field": "v", "type": "quantitative", "scale": {"domain": [-30, 30], "nice": false, "zero": false}, "axis": null},
     "y": {"field": "r", "type": "quantitative", "scale": {"domain": [1.1, 2.0], "nice": false, "zero": false}, "axis": null}}},
  {"data": {"values": [{"t":"PC on","v":-18.37,"r":1.96},{"t":"-plane","v":-11.06,"r":1.96}]},
   "mark": {"type": "text", "fontSize": 16, "align": "left", "baseline": "middle", "color": "#0000ff"},
   "encoding": {"x": {"field": "v", "type": "quantitative", "scale": {"domain": [-30, 30], "nice": false, "zero": false}, "axis": null},
     "y": {"field": "r", "type": "quantitative", "scale": {"domain": [1.1, 2.0], "nice": false, "zero": false}, "axis": null}, "text": {"field": "t"}}},
  {"data": {"values": [{"t":"ab","v":-13.0,"r":1.96}]},
   "mark": {"type": "text", "fontSize": 16, "fontStyle": "italic", "align": "left", "baseline": "middle", "color": "#0000ff"},
   "encoding": {"x": {"field": "v", "type": "quantitative", "scale": {"domain": [-30, 30], "nice": false, "zero": false}, "axis": null},
     "y": {"field": "r", "type": "quantitative", "scale": {"domain": [1.1, 2.0], "nice": false, "zero": false}, "axis": null}, "text": {"field": "t"}}},
  {"data": {"values": [{"t":"T","v":-0.96,"r":1.96},{"t":"~22K","v":0.6,"r":1.96}]},
   "mark": {"type": "text", "fontSize": 16, "align": "left", "baseline": "middle", "color": "#ff0000"},
   "encoding": {"x": {"field": "v", "type": "quantitative", "scale": {"domain": [-30, 30], "nice": false, "zero": false}, "axis": null},
     "y": {"field": "r", "type": "quantitative", "scale": {"domain": [1.1, 2.0], "nice": false, "zero": false}, "axis": null}, "text": {"field": "t"}}},
  {"data": {"values": [{"t":"c","v":0.16,"r":1.93}]},
   "mark": {"type": "text", "fontSize": 10, "align": "center", "baseline": "middle", "color": "#ff0000"},
   "encoding": {"x": {"field": "v", "type": "quantitative", "scale": {"domain": [-30, 30], "nice": false, "zero": false}, "axis": null},
     "y": {"field": "r", "type": "quantitative", "scale": {"domain": [1.1, 2.0], "nice": false, "zero": false}, "axis": null}, "text": {"field": "t"}}},
  {"data": {"values": [{"t":"22K","v":20.0,"r":1.89},{"t":"3K","v":8.6,"r":1.68}]},
   "mark": {"type": "text", "fontSize": 16, "align": "left", "baseline": "middle", "color": "#000000"},
   "encoding": {"x": {"field": "v", "type": "quantitative", "scale": {"domain": [-30, 30], "nice": false, "zero": false}, "axis": null},
     "y": {"field": "r", "type": "quantitative", "scale": {"domain": [1.1, 2.0], "nice": false, "zero": false}, "axis": null}, "text": {"field": "t"}}},
  {"data": {"values": [{"t":"16K","v":0.2,"r":1.746,"c":"16K"},{"t":"10K","v":0.1,"r":1.512,"c":"10K"},{"t":"8K","v":0.1,"r":1.356,"c":"8K"},{"t":"3K","v":0.1,"r":1.149,"c":"3K"}]},
   "mark": {"type": "text", "fontSize": 13, "align": "center", "baseline": "middle"},
   "encoding": {"x": {"field": "v", "type": "quantitative", "scale": {"domain": [-30, 30], "nice": false, "zero": false}, "axis": null},
     "y": {"field": "r", "type": "quantitative", "scale": {"domain": [1.1, 2.0], "nice": false, "zero": false}, "axis": null}, "text": {"field": "t"},
     "color": {"field": "c", "type": "nominal", "scale": {"domain": ["16K","10K","8K","3K"], "range": ["#22cc22","#008000","#ff00ff","#ff0000"]}, "legend": null}}}
]}
],
"resolve": {"scale": {"x": "independent", "y": "independent", "color": "independent", "strokeDash": "independent"}, "axis": {"x": "independent", "y": "independent"}}
}
